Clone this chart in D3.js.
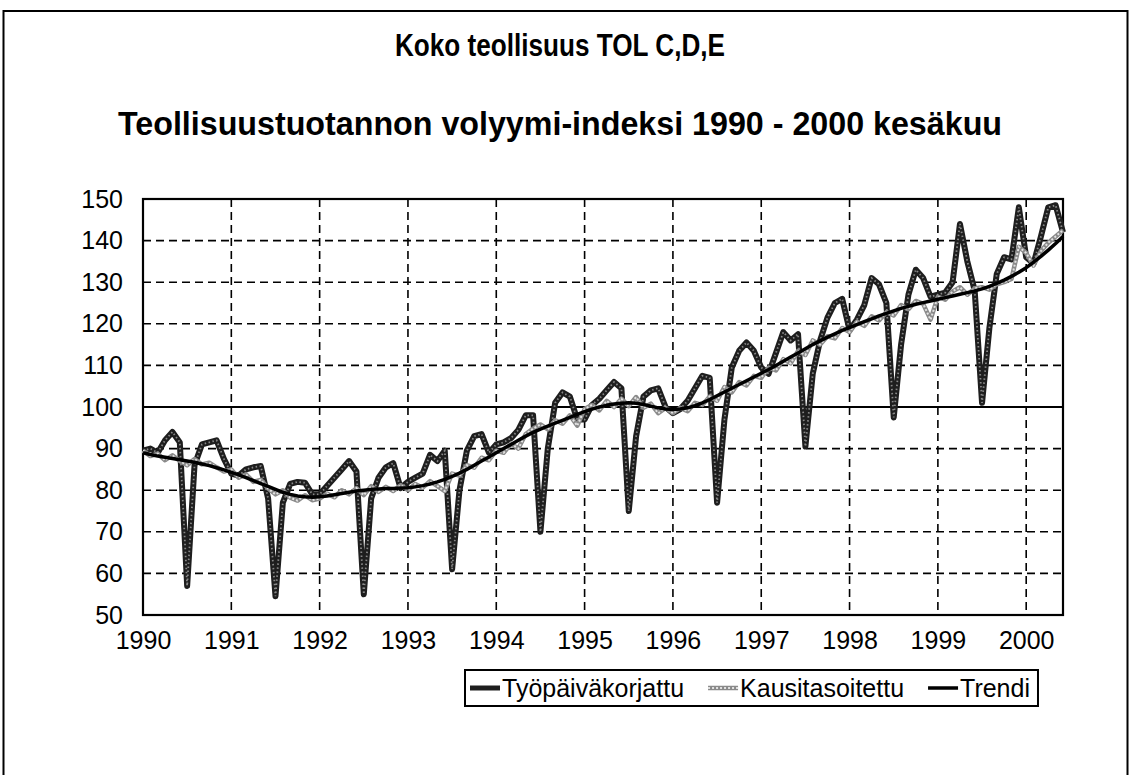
<!DOCTYPE html>
<html>
<head>
<meta charset="utf-8">
<script src="https://cdn.jsdelivr.net/npm/d3@7"></script>
<style>
  body { margin: 0; background: #fff; }
  text { font-family: "Liberation Sans", Arial, sans-serif; fill: #000; }
</style>
</head>
<body>
<svg id="chart" width="1132" height="775"></svg>
<script>
// years shown on the category axis, monthly data Jan 1990 .. Jun 2000
const years = ["1990","1991","1992","1993","1994","1995","1996","1997","1998","1999","2000"];
const yTicks = [50,60,70,80,90,100,110,120,130,140,150];

// Työpäiväkorjattu (working-day adjusted)
const tyopaiva = [
  89.5, 90.0, 89.0, 92.0, 94.0, 91.5, 57.0, 86.0, 91.0, 91.5, 92.0, 87.5,
  84.0, 83.5, 85.0, 85.5, 85.8, 78.0, 54.5, 77.0, 81.5, 82.0, 81.8, 79.0,
  79.0, 81.0, 83.0, 85.0, 87.0, 84.5, 55.0, 78.0, 83.0, 85.5, 86.5, 80.5,
  82.0, 83.0, 84.0, 88.5, 87.0, 89.5, 61.0, 80.0, 89.5, 93.0, 93.5, 89.0,
  91.0, 91.5, 92.5, 94.5, 98.0, 98.0, 70.0, 90.0, 101.0, 103.5, 102.5, 97.0,
  97.0, 100.5, 102.0, 104.0, 106.0, 104.5, 75.0, 93.0, 102.5, 104.0, 104.5, 100.0,
  98.5, 99.5, 101.5, 104.5, 107.5, 107.0, 77.0, 97.0, 109.5, 113.5, 115.5, 113.5,
  109.5, 108.0, 113.0, 118.0, 116.0, 117.5, 90.5, 108.0, 116.0, 121.5, 125.0, 126.0,
  118.5, 121.0, 124.5, 131.0, 129.5, 125.0, 97.5, 115.0, 127.0, 133.0, 131.0, 126.5,
  127.0, 127.5, 130.0, 144.0, 135.0, 128.0, 101.0, 119.0, 132.0, 136.0, 135.5, 148.0,
  136.0, 134.5, 141.0, 148.0, 148.5, 142.0
];

// Kausitasoitettu (seasonally adjusted)
const kausi = [
  89.5, 88.2, 88.8, 87.2, 88.4, 87.0, 86.0, 87.5, 86.2, 86.6, 85.5, 84.5,
  85.0, 83.0, 83.8, 82.0, 82.5, 80.4, 79.0, 80.0, 78.2, 77.5, 78.8, 77.6,
  78.0, 79.2, 78.3, 80.0, 79.0, 80.5, 78.8, 81.0, 79.6, 80.8, 79.8, 81.2,
  80.0, 81.5, 80.6, 82.2, 81.0, 79.8, 84.0, 83.5, 86.0, 85.4, 87.8, 87.2,
  89.5, 89.0, 91.2, 90.0, 93.5, 94.8, 95.8, 94.6, 96.8, 96.0, 98.0, 95.5,
  99.5, 100.5, 99.2, 101.5, 100.0, 102.0, 100.2, 102.4, 99.8, 100.8, 98.5, 99.8,
  98.5, 99.8, 99.0, 101.0, 100.5, 102.5, 101.5, 104.8, 103.5, 106.0, 105.2, 107.5,
  107.0, 109.5, 108.8, 111.5, 110.5, 113.5, 112.5, 116.0, 115.0, 117.0, 116.5, 119.0,
  118.0, 120.5, 119.5, 121.8, 120.8, 122.8, 122.0, 124.5, 123.5, 125.5, 124.8, 121.0,
  126.5, 125.8, 127.8, 128.8, 127.0, 128.5, 128.8, 128.2, 129.5, 130.0, 130.8, 138.5,
  137.0, 134.0, 137.5, 139.5, 141.0, 142.5
];

// Trendi
const trendi = [
  89.0, 88.6, 88.2, 87.9, 87.6, 87.3, 87.0, 86.7, 86.3, 85.9, 85.4, 84.9,
  84.3, 83.7, 83.0, 82.3, 81.6, 80.9, 80.2, 79.5, 79.0, 78.6, 78.4, 78.3,
  78.4, 78.6, 78.9, 79.2, 79.5, 79.8, 80.0, 80.2, 80.3, 80.4, 80.4, 80.5,
  80.6, 80.8, 81.1, 81.5, 82.0, 82.6, 83.3, 84.1, 85.0, 86.0, 87.0, 88.0,
  89.0, 90.0, 91.0, 92.0, 93.0, 93.9, 94.7, 95.4, 96.1, 96.8, 97.5, 98.2,
  98.9, 99.5, 100.0, 100.4, 100.7, 100.9, 101.0, 100.9, 100.6, 100.2, 99.8, 99.5,
  99.4, 99.5, 99.8, 100.3, 101.0, 101.8, 102.7, 103.6, 104.5, 105.4, 106.3, 107.2,
  108.1, 109.0, 110.0, 111.0, 112.0, 113.0, 114.0, 115.0, 115.9, 116.8, 117.6, 118.4,
  119.1, 119.8, 120.5, 121.2, 121.9, 122.5, 123.1, 123.7, 124.2, 124.7, 125.1, 125.5,
  125.9, 126.3, 126.7, 127.1, 127.5, 127.9, 128.4, 129.0, 129.7, 130.5, 131.4, 132.4,
  133.5, 134.8, 136.2, 137.7, 139.3, 141.0
];

const seriesNames = ["Työpäiväkorjattu", "Kausitasoitettu", "Trendi"];

// month keys like "1990-01"
const months = tyopaiva.map((d, i) => `${1990 + Math.floor(i / 12)}-${String(i % 12 + 1).padStart(2, "0")}`);

const svg = d3.select("svg#chart");
const margin = {left: 143, right: 1063, top: 199, bottom: 615};
const axisFont = 25;

// outer frame of the chart area
svg.append("rect")
   .attr("x", 3.5).attr("y", 11)
   .attr("width", 1124).attr("height", 800)
   .attr("fill", "none").attr("stroke", "#000").attr("stroke-width", 2);

// titles (scanned original uses a condensed bold face)
svg.append("text")
   .attr("x", 560).attr("y", 56)
   .attr("text-anchor", "middle")
   .attr("font-weight", "bold").attr("font-size", 31)
   .attr("textLength", 330).attr("lengthAdjust", "spacingAndGlyphs")
   .text("Koko teollisuus TOL C,D,E");
svg.append("text")
   .attr("x", 560).attr("y", 135)
   .attr("text-anchor", "middle")
   .attr("font-weight", "bold").attr("font-size", 33)
   .attr("textLength", 884).attr("lengthAdjust", "spacingAndGlyphs")
   .text("Teollisuustuotannon volyymi-indeksi 1990 - 2000 kesäkuu");

const x = d3.scalePoint().domain(months).range([margin.left, margin.right]);
const y = d3.scaleLinear().domain([50, 150]).range([margin.bottom, margin.top]);

// grid
const grid = svg.append("g").attr("class", "grid");
grid.selectAll("line.h").data(yTicks.filter(v => v > 50 && v < 150))
    .join("line").attr("class", "h")
    .attr("x1", margin.left).attr("x2", margin.right)
    .attr("y1", d => y(d)).attr("y2", d => y(d))
    .attr("stroke", "#000")
    .attr("stroke-width", d => d === 100 ? 2 : 1.6)
    .attr("stroke-dasharray", d => d === 100 ? null : "8,5");
grid.selectAll("line.v").data(years.slice(1))
    .join("line").attr("class", "v")
    .attr("x1", d => x(d + "-01")).attr("x2", d => x(d + "-01"))
    .attr("y1", margin.top).attr("y2", margin.bottom)
    .attr("stroke", "#000").attr("stroke-width", 1.6)
    .attr("stroke-dasharray", "8,5");

// plot area border
svg.append("rect")
   .attr("x", margin.left).attr("y", margin.top)
   .attr("width", margin.right - margin.left).attr("height", margin.bottom - margin.top)
   .attr("fill", "none").attr("stroke", "#000").attr("stroke-width", 2.2);

// axes
const yAxis = svg.append("g")
   .attr("transform", `translate(${margin.left},0)`)
   .call(d3.axisLeft(y).tickValues(yTicks).tickSize(0).tickPadding(20));
const xAxis = svg.append("g")
   .attr("transform", `translate(0,${margin.bottom})`)
   .call(d3.axisBottom(x).tickValues(years.map(yr => yr + "-01"))
         .tickFormat(k => k.slice(0, 4)).tickSize(0).tickPadding(16));
[yAxis, xAxis].forEach(a => {
  a.select(".domain").remove();
  a.selectAll("text").attr("font-size", axisFont)
   .attr("font-family", "'Liberation Sans', Arial, sans-serif").attr("fill", "#000");
});

// lines
const line = d3.line().x((d, i) => x(months[i])).y(d => y(d));
const plotLines = svg.append("g").attr("class", "series");

plotLines.append("path").datum(tyopaiva)
   .attr("d", line).attr("fill", "none")
   .attr("stroke", "#1e1e1e").attr("stroke-width", 6).attr("stroke-linejoin", "round");
plotLines.append("path").datum(tyopaiva)
   .attr("d", line).attr("fill", "none")
   .attr("stroke", "#888").attr("stroke-width", 1.8).attr("stroke-dasharray", "1.5,2.5");

plotLines.append("path").datum(kausi)
   .attr("d", line).attr("fill", "none")
   .attr("stroke", "#8a8a8a").attr("stroke-width", 4.5).attr("stroke-linejoin", "round");
plotLines.append("path").datum(kausi)
   .attr("d", line).attr("fill", "none")
   .attr("stroke", "#e2e2e2").attr("stroke-width", 2).attr("stroke-dasharray", "2,2");

plotLines.append("path").datum(trendi)
   .attr("d", line).attr("fill", "none")
   .attr("stroke", "#000").attr("stroke-width", 3.5).attr("stroke-linejoin", "round");

// legend
const legend = svg.append("g").attr("class", "legend");
const legendX = 465, legendY = 670, legendH = 36, sampleW = 30, itemGap = 24;
let cursor = legendX + 5;
seriesNames.forEach((name, i) => {
  const cy = legendY + legendH / 2;
  if (i === 1) {
    legend.append("line").attr("x1", cursor).attr("x2", cursor + sampleW)
      .attr("y1", cy).attr("y2", cy).attr("stroke", "#8a8a8a").attr("stroke-width", 4.5);
    legend.append("line").attr("x1", cursor).attr("x2", cursor + sampleW)
      .attr("y1", cy).attr("y2", cy).attr("stroke", "#e2e2e2").attr("stroke-width", 2)
      .attr("stroke-dasharray", "2,2");
  } else {
    legend.append("line").attr("x1", cursor).attr("x2", cursor + sampleW)
      .attr("y1", cy).attr("y2", cy).attr("stroke", i === 0 ? "#1e1e1e" : "#000")
      .attr("stroke-width", i === 0 ? 5 : 3.5);
  }
  const t = legend.append("text")
    .attr("x", cursor + sampleW + 2).attr("y", cy)
    .attr("dominant-baseline", "central")
    .attr("font-size", axisFont)
    .text(name);
  cursor += sampleW + 2 + t.node().getComputedTextLength() + itemGap;
});
legend.insert("rect", ":first-child")
  .attr("x", legendX).attr("y", legendY)
  .attr("width", cursor - itemGap + 8 - legendX).attr("height", legendH)
  .attr("fill", "#fff").attr("stroke", "#000").attr("stroke-width", 2);
</script>
</body>
</html>
